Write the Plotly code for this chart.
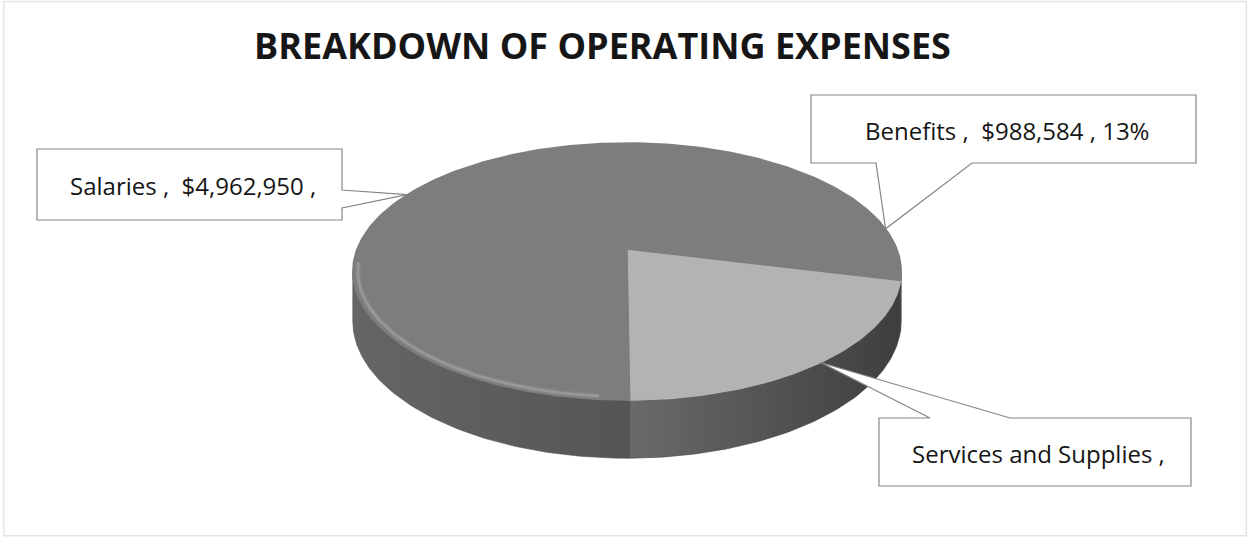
import math
import plotly.graph_objects as go

# ---- data -------------------------------------------------------------
categories = ["Salaries", "Benefits", "Services and Supplies"]
amounts = [4962950, 988584, 1580000]
show_amount = [True, True, False]
show_percent = [False, True, False]

# ---- styling / geometry of the tilted 3-D pie -------------------------
W, H = 1250, 539
CX, CY = 627, 249          # centre of the top face
RX, RY = 270, 124.6        # radii of the top face
PERSP = 0.175              # perspective strength (front looks bigger)
DEPTH = 48                 # thickness of the disc
START = 14                 # boundary between Benefits and Services (deg)

top_colors = {"Salaries": "#7d7d7d", "Benefits": "#7d7d7d",
              "Services and Supplies": "#b3b3b3"}
side_colors = {"Salaries": ("#656565", "#555555"),
               "Benefits": ("#474747", "#3f3f3f"),
               "Services and Supplies": ("#6a6a6a", "#3e3e3e")}

# callout boxes: (x0, y0, x1, y1) and which side the pointer leaves from
boxes = {
    "Salaries": dict(box=(37, 149, 342, 220), side="right", base=(190, 208)),
    "Benefits": dict(box=(811, 95, 1196, 163), side="bottom", base=(876, 972)),
    "Services and Supplies": dict(box=(879, 418, 1191, 486), side="top", base=(930, 1010)),
}


def proj(theta_deg, drop=0.0, scale=1.0):
    t = math.radians(theta_deg)
    u, v = scale * math.cos(t), scale * math.sin(t)
    w = 1 - PERSP * v
    return CX + RX * u / w, CY + (RY * v + drop) / w


def arc(t1, t2, drop=0.0, scale=1.0, step=1.0):
    n = max(2, int(abs(t2 - t1) / step) + 1)
    return [proj(t1 + (t2 - t1) * i / (n - 1), drop, scale) for i in range(n)]


total = sum(amounts)
fracs = [a / total for a in amounts]

# clockwise order on screen starting at START: Services, Salaries, Benefits
order = ["Services and Supplies", "Salaries", "Benefits"]
ranges = {}
t = START
for name in order:
    span = 360 * fracs[categories.index(name)]
    ranges[name] = (t, t + span)
    t += span

fig = go.Figure()

# ---- side wall (only the part facing the viewer) ----------------------
vis_lo = math.degrees(math.asin(PERSP))
vis_hi = 180 - vis_lo
for name in order:
    a, b = ranges[name]
    for shift in (-360, 0, 360):
        lo, hi = max(a + shift, vis_lo), min(b + shift, vis_hi)
        if hi <= lo:
            continue
        top = arc(lo, hi)
        bot = arc(hi, lo, drop=DEPTH)
        pts = top + bot + [top[0]]
        c_left, c_right = side_colors[name]
        fig.add_trace(go.Scatter(
            x=[p[0] for p in pts], y=[p[1] for p in pts],
            mode="lines", fill="toself", line=dict(width=0.6, color=c_right),
            fillgradient=dict(type="horizontal",
                              colorscale=[[0, c_left], [1, c_right]]),
            hoverinfo="skip"))

# ---- top faces ---------------------------------------------------------
for name in order:
    a, b = ranges[name]
    pts = [(CX, CY)] + arc(a, b) + [(CX, CY)]
    fig.add_trace(go.Scatter(
        x=[p[0] for p in pts], y=[p[1] for p in pts],
        mode="lines", fill="toself",
        line=dict(width=1.4, color=top_colors[name]),
        fillcolor=top_colors[name],
        name=name, hoverinfo="skip"))

# soft bevel highlight along the front rim
for width, alpha in ((5, 0.18), (2.5, 0.45)):
    hl = arc(95, 174, scale=0.982)
    fig.add_trace(go.Scatter(x=[p[0] for p in hl], y=[p[1] for p in hl],
                             mode="lines", hoverinfo="skip",
                             line=dict(color=f"rgba(175,175,175,{alpha})",
                                       width=width)))

# ---- callouts ----------------------------------------------------------
shapes = []
annotations = []
for i, name in enumerate(categories):
    a, b = ranges[name]
    tip = proj((a + b) / 2)
    x0, y0, x1, y1 = boxes[name]["box"]
    s0, s1 = boxes[name]["base"]
    if boxes[name]["side"] == "right":
        path = (f"M{x0},{y0} L{x1},{y0} L{x1},{s0} L{tip[0]:.1f},{tip[1]:.1f} "
                f"L{x1},{s1} L{x1},{y1} L{x0},{y1} Z")
    elif boxes[name]["side"] == "bottom":
        path = (f"M{x0},{y0} L{x1},{y0} L{x1},{y1} L{s1},{y1} "
                f"L{tip[0]:.1f},{tip[1]:.1f} L{s0},{y1} L{x0},{y1} Z")
    else:
        path = (f"M{x0},{y0} L{s0},{y0} L{tip[0]:.1f},{tip[1]:.1f} L{s1},{y0} "
                f"L{x1},{y0} L{x1},{y1} L{x0},{y1} Z")
    shapes.append(dict(type="path", path=path, xref="x", yref="y",
                       fillcolor="white", line=dict(color="#858585", width=1.2),
                       layer="above"))

    text = f"{name} ,"
    if show_amount[i]:
        text += f"  ${amounts[i]:,} ,"
    if show_percent[i]:
        text += f" {round(100 * fracs[i])}%"
    annotations.append(dict(x=(x0 + x1) / 2 + 3, y=(y0 + y1) / 2 + 1,
                            xref="x", yref="y", text=text, showarrow=False,
                            font=dict(family="Open Sans", size=24, color="#161616"),
                            xanchor="center", yanchor="middle"))

# faint outline of the chart area
shapes.append(dict(type="rect", xref="paper", yref="paper", x0=0.003, y0=0.006,
                   x1=0.997, y1=0.997, line=dict(color="#e4e4e4", width=1.5),
                   layer="below"))

fig.update_layout(
    width=W, height=539,
    margin=dict(l=0, r=0, t=0, b=0),
    paper_bgcolor="white", plot_bgcolor="white",
    showlegend=False,
    title=dict(text="<b>BREAKDOWN OF OPERATING EXPENSES</b>",
               x=0.482, xanchor="center", y=1 - 46 / H, yanchor="middle",
               font=dict(family="Open Sans", size=36, color="#161616")),
    xaxis=dict(range=[0, W], visible=False, fixedrange=True),
    yaxis=dict(range=[H, 0], visible=False, fixedrange=True),
    shapes=shapes, annotations=annotations,
)

fig.write_html("out.html")
